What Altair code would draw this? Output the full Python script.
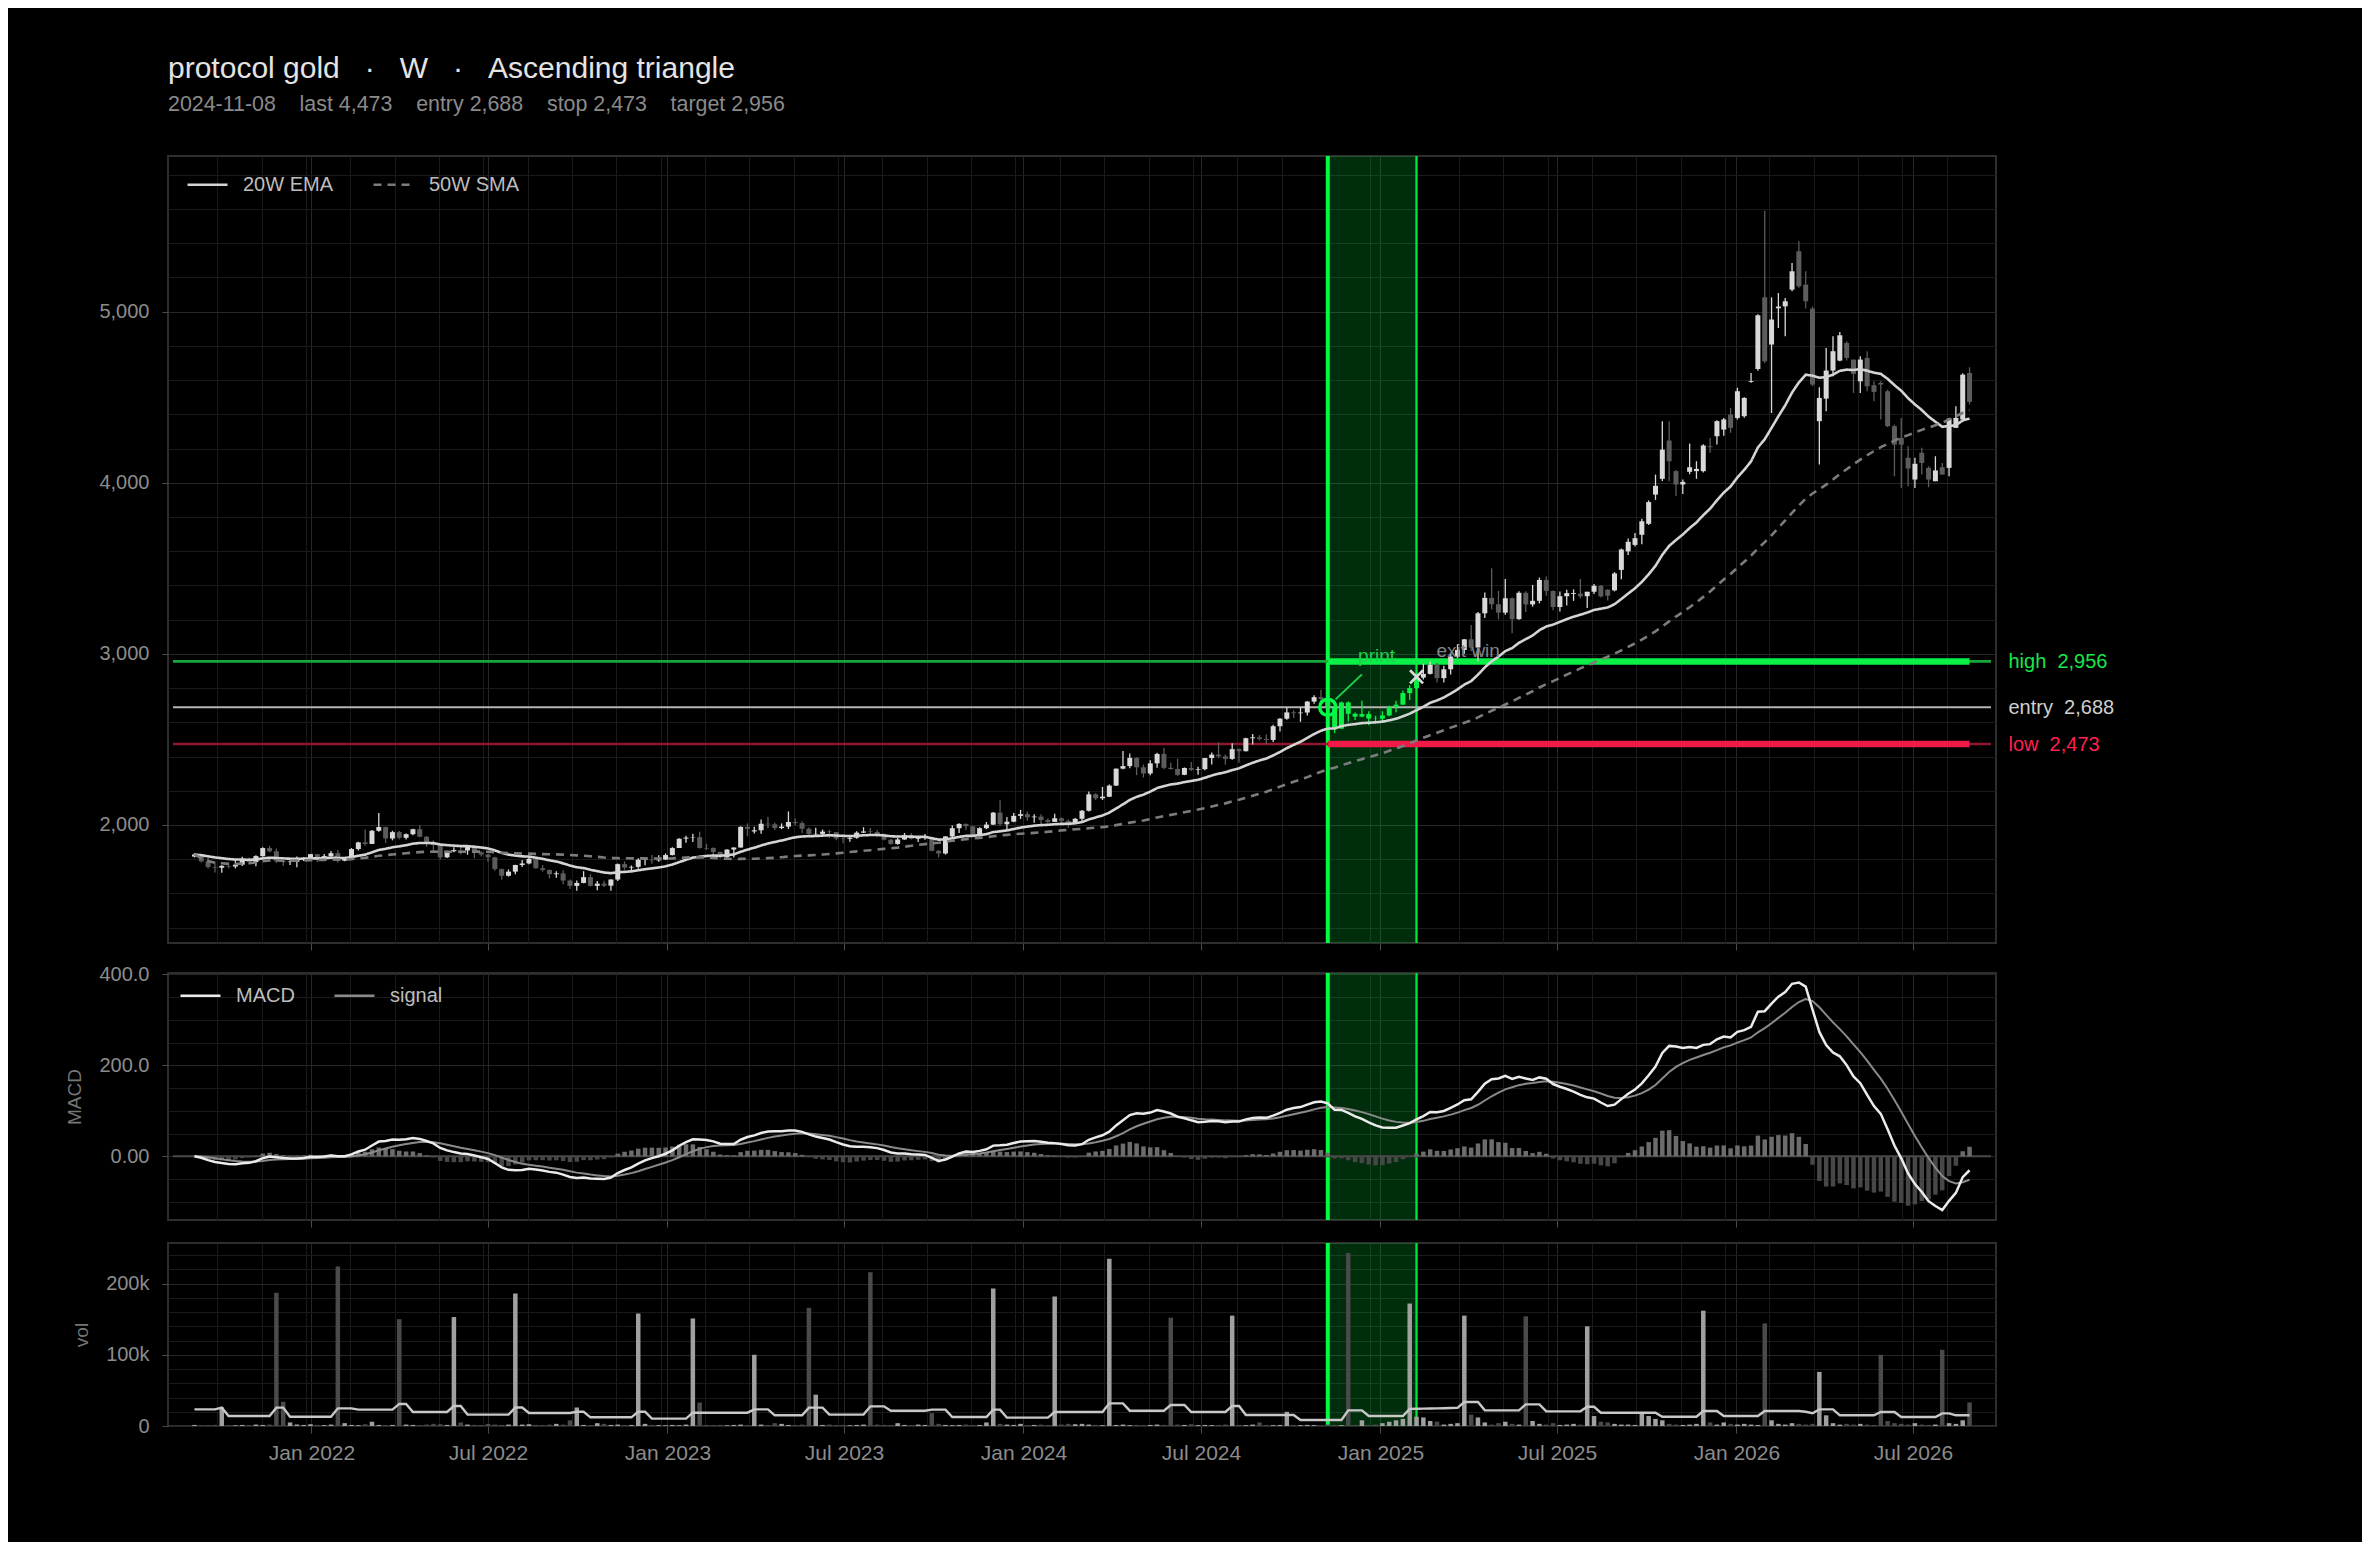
import altair as alt
import numpy as np
import pandas as pd

NB = "\u00a0"

# ---------------- data (weekly candles) ----------------
dates = pd.date_range("2021-09-03", periods=261, freq="7D")

open_ = [
    1815, 1827, 1787, 1754, 1750, 1761, 1757, 1768, 1796, 1783,
    1818, 1865, 1846, 1788, 1783, 1783, 1798, 1808, 1829, 1797,
    1818, 1835, 1791, 1807, 1859, 1898, 1889, 1966, 1988, 1921,
    1958, 1925, 1946, 1975, 1931, 1897, 1883, 1811, 1846, 1853,
    1851, 1871, 1840, 1827, 1811, 1742, 1703, 1727, 1766, 1775,
    1802, 1747, 1737, 1712, 1717, 1675, 1644, 1661, 1695, 1644,
    1657, 1645, 1681, 1771, 1751, 1755, 1797, 1797, 1793, 1798,
    1824, 1865, 1920, 1926, 1928, 1865, 1865, 1842, 1811, 1856,
    1868, 1989, 1962, 1969, 2007, 2004, 1982, 1990, 2017, 2011,
    1978, 1946, 1948, 1961, 1958, 1921, 1919, 1925, 1955, 1962,
    1959, 1943, 1914, 1889, 1915, 1940, 1919, 1924, 1925, 1849,
    1833, 1933, 1981, 2006, 1992, 1940, 1981, 2002, 2072, 2004,
    2019, 2053, 2063, 2045, 2049, 2029, 2018, 2039, 2024, 2013,
    2036, 2083, 2179, 2156, 2165, 2230, 2329, 2344, 2392, 2337,
    2301, 2360, 2415, 2334, 2327, 2293, 2333, 2322, 2326, 2391,
    2411, 2401, 2386, 2443, 2431, 2507, 2512, 2503, 2497, 2577,
    2621, 2658, 2653, 2657, 2721, 2747, 2736, 2685, 2563, 2716,
    2650, 2633, 2648, 2622, 2621, 2640, 2689, 2703, 2771, 2800,
    2861, 2883, 2936, 2858, 2910, 2984, 3023, 3085, 3037, 3237,
    3327, 3290, 3241, 3325, 3203, 3357, 3289, 3310, 3432, 3368,
    3274, 3337, 3350, 3352, 3337, 3363, 3398, 3375, 3371, 3491,
    3599, 3637, 3696, 3760, 3931, 4023, 4247, 4068, 3990, 4064,
    4068, 4068, 4214, 4272, 4311, 4399, 4379, 4389, 4590, 4665,
    5084, 4808, 5020, 5031, 5129, 5353, 5158, 5018, 4360, 4492,
    4656, 4714, 4817, 4720, 4593, 4730, 4570, 4584, 4535, 4331,
    4262, 4146, 4019, 4175, 4087, 4009, 4091, 4087, 4321, 4370,
    4642,
]
high = [
    1834, 1832, 1808, 1787, 1765, 1781, 1800, 1814, 1810, 1823,
    1869, 1877, 1862, 1793, 1793, 1815, 1812, 1831, 1830, 1830,
    1848, 1853, 1813, 1865, 1902, 1974, 1970, 2070, 1990, 1966,
    1966, 1950, 1978, 1998, 1936, 1909, 1884, 1849, 1869, 1874,
    1877, 1879, 1847, 1830, 1814, 1745, 1740, 1767, 1795, 1808,
    1806, 1765, 1740, 1729, 1735, 1681, 1675, 1730, 1713, 1673,
    1674, 1682, 1775, 1787, 1763, 1805, 1810, 1825, 1823, 1833,
    1870, 1922, 1937, 1949, 1960, 1890, 1870, 1845, 1858, 1870,
    1992, 2009, 1990, 2032, 2048, 2015, 2009, 2079, 2038, 2022,
    1985, 1983, 1973, 1971, 1959, 1925, 1935, 1963, 1987, 1982,
    1971, 1950, 1916, 1924, 1953, 1953, 1932, 1947, 1925, 1853,
    1935, 1997, 2010, 2009, 1993, 1987, 2017, 2075, 2145, 2047,
    2070, 2088, 2078, 2062, 2062, 2037, 2065, 2044, 2032, 2041,
    2088, 2195, 2185, 2222, 2236, 2330, 2432, 2418, 2396, 2353,
    2378, 2422, 2450, 2364, 2387, 2336, 2368, 2340, 2392, 2424,
    2483, 2412, 2477, 2449, 2510, 2531, 2525, 2529, 2586, 2625,
    2685, 2670, 2685, 2725, 2758, 2790, 2750, 2709, 2721, 2722,
    2657, 2726, 2664, 2638, 2665, 2697, 2726, 2786, 2817, 2886,
    2942, 2955, 2947, 2930, 3004, 3057, 3087, 3168, 3245, 3358,
    3500, 3368, 3438, 3330, 3366, 3366, 3403, 3446, 3452, 3370,
    3365, 3375, 3377, 3438, 3363, 3409, 3402, 3378, 3478, 3615,
    3675, 3707, 3790, 3897, 4048, 4360, 4360, 4075, 4019, 4229,
    4126, 4225, 4262, 4365, 4378, 4438, 4555, 4500, 4642, 4985,
    5590, 5084, 5109, 5080, 5285, 5411, 5236, 5030, 4558, 4788,
    4856, 4882, 4827, 4720, 4739, 4769, 4593, 4593, 4545, 4340,
    4379, 4214, 4146, 4204, 4097, 4155, 4116, 4379, 4447, 4640,
    4675,
]
low = [
    1810, 1780, 1745, 1722, 1721, 1746, 1746, 1760, 1770, 1758,
    1814, 1840, 1778, 1762, 1766, 1753, 1790, 1790, 1782, 1790,
    1810, 1780, 1788, 1807, 1850, 1878, 1889, 1960, 1895, 1910,
    1916, 1915, 1940, 1928, 1872, 1850, 1798, 1807, 1840, 1828,
    1826, 1805, 1816, 1784, 1732, 1680, 1698, 1712, 1754, 1770,
    1745, 1727, 1688, 1691, 1654, 1626, 1615, 1659, 1640, 1618,
    1638, 1616, 1672, 1739, 1727, 1744, 1765, 1773, 1785, 1795,
    1822, 1865, 1896, 1901, 1862, 1853, 1819, 1804, 1805, 1810,
    1868, 1934, 1950, 1949, 1981, 1970, 1975, 1976, 2000, 1952,
    1932, 1939, 1940, 1925, 1910, 1893, 1902, 1920, 1953, 1942,
    1928, 1910, 1885, 1884, 1913, 1915, 1901, 1913, 1846, 1810,
    1827, 1927, 1953, 1970, 1932, 1932, 1975, 1999, 1995, 1973,
    2016, 2035, 2024, 2013, 2001, 2010, 2017, 2015, 1984, 2010,
    2024, 2079, 2146, 2146, 2163, 2228, 2325, 2332, 2291, 2277,
    2291, 2335, 2325, 2324, 2286, 2291, 2316, 2293, 2319, 2353,
    2391, 2353, 2381, 2364, 2429, 2470, 2493, 2471, 2485, 2546,
    2615, 2625, 2603, 2640, 2708, 2725, 2643, 2537, 2563, 2605,
    2613, 2629, 2583, 2597, 2606, 2635, 2658, 2702, 2730, 2794,
    2850, 2880, 2833, 2832, 2880, 2975, 3000, 3015, 2957, 3210,
    3260, 3202, 3228, 3121, 3200, 3245, 3276, 3295, 3340, 3255,
    3247, 3283, 3310, 3324, 3268, 3350, 3330, 3312, 3365, 3436,
    3578, 3627, 3640, 3753, 3900, 4010, 4009, 3922, 3935, 4050,
    4023, 4060, 4175, 4223, 4275, 4292, 4370, 4380, 4584, 4655,
    4700, 4408, 4905, 4856, 5120, 5140, 5018, 4564, 4107, 4418,
    4623, 4710, 4714, 4525, 4525, 4535, 4477, 4370, 4325, 4038,
    3970, 3980, 3970, 4048, 3974, 4009, 4048, 4038, 4321, 4360,
    4457,
]
close = [
    1827, 1787, 1754, 1750, 1761, 1757, 1768, 1796, 1783, 1818,
    1865, 1846, 1788, 1783, 1786, 1798, 1808, 1829, 1797, 1818,
    1835, 1791, 1807, 1859, 1898, 1889, 1966, 1988, 1921, 1958,
    1925, 1946, 1975, 1931, 1897, 1883, 1811, 1846, 1853, 1851,
    1871, 1840, 1827, 1811, 1742, 1703, 1727, 1766, 1775, 1802,
    1747, 1737, 1712, 1717, 1675, 1644, 1661, 1695, 1644, 1657,
    1645, 1681, 1771, 1751, 1755, 1797, 1801, 1793, 1798, 1824,
    1865, 1920, 1926, 1928, 1865, 1862, 1842, 1811, 1856, 1868,
    1989, 1978, 1969, 2007, 2004, 1982, 1990, 2017, 2011, 1978,
    1946, 1948, 1961, 1958, 1921, 1919, 1925, 1955, 1962, 1959,
    1943, 1914, 1889, 1915, 1940, 1919, 1924, 1925, 1849, 1833,
    1933, 1981, 2006, 1992, 1940, 1981, 2002, 2072, 2004, 2019,
    2053, 2063, 2045, 2049, 2029, 2018, 2039, 2024, 2013, 2036,
    2083, 2179, 2156, 2165, 2230, 2329, 2344, 2392, 2337, 2301,
    2360, 2415, 2334, 2327, 2293, 2333, 2322, 2326, 2391, 2411,
    2401, 2386, 2443, 2431, 2507, 2512, 2503, 2497, 2577, 2621,
    2658, 2653, 2657, 2721, 2747, 2736, 2685, 2563, 2716, 2650,
    2633, 2648, 2622, 2621, 2640, 2689, 2703, 2771, 2800, 2861,
    2883, 2936, 2858, 2910, 2984, 3023, 3085, 3037, 3237, 3327,
    3290, 3241, 3325, 3203, 3357, 3289, 3310, 3432, 3368, 3274,
    3337, 3355, 3355, 3337, 3363, 3398, 3336, 3340, 3470, 3610,
    3655, 3676, 3775, 3887, 3982, 4194, 4126, 3990, 4005, 4091,
    4081, 4218, 4208, 4360, 4370, 4321, 4535, 4496, 4595, 4979,
    4710, 4954, 5030, 5061, 5236, 5148, 5061, 4574, 4496, 4656,
    4769, 4862, 4730, 4636, 4720, 4564, 4531, 4574, 4331, 4223,
    4223, 4083, 4111, 4116, 4019, 4072, 4048, 4375, 4379, 4632,
    4473,
]
volume_k = [
    1.5, 1, 1.2, 1.5, 26, 1.2, 1, 1.5, 1.3, 2,
    1.5, 2, 187, 34, 5, 2, 1.5, 2.5, 1.5, 1.2,
    2, 224, 4, 1.5, 1.2, 2.5, 6, 1.5, 1.2, 1.5,
    150, 2, 1.5, 1.2, 2, 3, 2.5, 1.5, 153, 5,
    2, 1.5, 1.2, 3, 2, 1.5, 2, 186, 2, 2.5,
    1.5, 1.2, 2, 3, 2, 8, 26, 1.5, 1.2, 4,
    3, 1.5, 2, 1.2, 1.5, 158, 3, 1.5, 1.2, 1,
    1.5, 1.2, 2, 151, 33, 1.5, 1.2, 1.5, 1, 1.5,
    2, 1.2, 100, 2, 1.5, 4, 3, 1.5, 1.2, 2,
    166, 44, 1.5, 2, 1.2, 1.5, 1, 1.5, 2, 216,
    2, 1.5, 1.2, 4, 1.5, 1.2, 2, 1.5, 18, 3,
    1.5, 1.2, 1.5, 2, 1.2, 1.5, 5, 193, 3, 2,
    1.5, 3, 1.2, 1.5, 2, 1.2, 182, 2, 3, 2.5,
    3, 2, 1.5, 1.2, 235, 1.5, 2, 1.2, 1.5, 1.2,
    1.5, 2, 1.5, 152, 2, 1.5, 2.5, 1.2, 1.5, 1.2,
    1.5, 2, 155, 1.5, 1.2, 2, 5, 1.5, 1.2, 1.5,
    20, 1.5, 1.2, 1.5, 1.2, 1, 2, 1.5, 1.2, 243,
    1.5, 8, 1.5, 2, 4, 6, 8, 10, 172, 13,
    12, 7, 6, 2, 3, 4, 155, 16, 12, 5,
    2, 4, 6, 3, 2, 154, 7, 3, 2, 4,
    1.5, 2, 3, 2, 140, 14, 6, 5, 3, 2,
    2, 1.5, 19, 14, 10, 8, 3, 2, 1.5, 2,
    3, 162, 5, 2, 5, 3, 2, 3, 2, 1.5,
    144, 8, 3, 2, 4, 3, 2, 3, 76, 15,
    4, 2, 3, 2, 3, 2, 1.5, 100, 7, 4,
    3, 2, 4, 2, 1.5, 2, 107, 4, 3, 8,
    33,
]
vol_ma_k = [
    23.4, 23.4, 23.4, 23.4, 25.8, 14, 14, 14, 14, 14,
    14, 14, 25.8, 25.8, 13, 13, 13, 13, 13, 13,
    13, 24.8, 24.8, 24.8, 23, 23, 23, 23, 23, 23,
    31, 31, 19.7, 19.7, 19.7, 19.7, 19.7, 19.7, 28, 28,
    16, 16, 16, 16, 16, 16, 16, 26, 26, 18.3,
    18.3, 18.3, 18.3, 18.3, 18.3, 18.3, 20, 20, 12.2, 12.2,
    12.2, 12.2, 12.2, 12.2, 12.2, 20, 20, 10.3, 10.3, 10.3,
    10.3, 10.3, 10.3, 18.7, 18.7, 18.7, 18.7, 18.7, 18.7, 18.7,
    18.7, 18.7, 23.4, 23.4, 23.4, 15, 15, 15, 15, 15,
    25.8, 25.8, 25.8, 16, 16, 16, 16, 16, 16, 27.6,
    27.6, 27.6, 21.5, 21.5, 21.5, 21.5, 21.5, 21.5, 23, 23,
    23, 12.6, 12.6, 12.6, 12.6, 12.6, 12.6, 23, 23, 11.7,
    11.7, 11.7, 11.7, 11.7, 11.7, 11.7, 19.7, 19.7, 19.7, 19.7,
    19.7, 19.7, 19.7, 19.7, 31.8, 31.8, 31.8, 21.5, 21.5, 21.5,
    21.5, 21.5, 21.5, 29.5, 29.5, 29.5, 19.7, 19.7, 19.7, 19.7,
    19.7, 19.7, 28, 28, 15.5, 15.5, 15.5, 15.5, 15.5, 15.5,
    15.5, 15.5, 8.4, 8.4, 8.4, 8.4, 8.4, 8.4, 8.4, 22,
    22, 22, 14, 14, 14, 14, 14, 14, 24, 24.2,
    24.4, 24.6, 24.8, 25, 25.2, 25.4, 33.7, 33.7, 33.7, 22,
    22, 22, 22, 22, 22, 30.4, 30.4, 30.4, 20.6, 20.6,
    20.6, 20.6, 20.6, 20.6, 27, 27, 18.7, 18.7, 18.7, 18.7,
    18.7, 18.7, 18.7, 18.7, 18.7, 13, 13, 13, 13, 13,
    13, 21, 21, 21, 14, 14, 14, 14, 14, 14,
    21, 21, 21, 21, 21, 21, 20, 18, 23.4, 23.4,
    23.4, 15, 15, 15, 15, 15, 15, 19.7, 19.7, 19.7,
    12.6, 12.6, 12.6, 12.6, 12.6, 12.6, 17.8, 17.8, 15, 15,
    15,
]

signal_date = "2024-11-08"
exit_date = "2025-02-07"
level_end_date = "2026-08-28"
entry_price, stop_price, target_price = 2688, 2473, 2956
exit_mark_price = 2866
level_names = ["high", "entry", "low"]
level_prices = [target_price, entry_price, stop_price]

# ---------------- frame ----------------
df = pd.DataFrame({
    "date": dates.strftime("%Y-%m-%d"),
    "open": open_, "high": high, "low": low, "close": close,
    "vol": np.array(volume_k) * 1000.0,
    "vol_ma": np.array(vol_ma_k) * 1000.0,
})
c = df["close"].astype(float)
df["ema20"] = c.ewm(span=20, adjust=False).mean()
df["sma50"] = c.rolling(50, min_periods=1).mean()
macd = c.ewm(span=12, adjust=False).mean() - c.ewm(span=26, adjust=False).mean()
df["macd"] = macd
df["signal"] = macd.ewm(span=9, adjust=False).mean()
df["hist"] = df["macd"] - df["signal"]
up = df["close"] >= df["open"]
in_band = (dates >= pd.Timestamp(signal_date)) & (dates <= pd.Timestamp(exit_date))
df["ccolor"] = np.where(in_band, "#0cf046", np.where(up, "#d9d9d9", "#5c5c5c"))
df["vcolor"] = np.where(up, "#a0a0a0", "#4a4a4a")
df["hcolor"] = np.where(df["hist"] >= 0, "#6c6c6c", "#474747")


def ms(s):
    return int(pd.Timestamp(s, tz="UTC").value // 10**6)


X_LO, X_HI = "2021-08-12", "2026-09-19"
x0, x1 = ms(X_LO), ms(X_HI)
xs = alt.Scale(type="utc", domain=[x0, x1])
major_x = [ms(f"{y}-{m:02d}-01") for y in range(2022, 2027) for m in (1, 7)]
minor_x = [int(x0 + k * (x1 - x0) / 41) for k in range(1, 41)]

W = 1828
H_MAIN, H_MACD, H_VOL = 787, 247, 183
MAJ, MIN = "#262626", "#1a1a1a"

MAIN_DOM = [1310, 5910]
MACD_DOM = [-140, 403]
VOL_DOM = [0, 257000]
ys_main = alt.Scale(domain=MAIN_DOM, nice=False, zero=False)
ys_macd = alt.Scale(domain=MACD_DOM, nice=False, zero=False)
ys_vol = alt.Scale(domain=VOL_DOM, nice=False, zero=False)


def X(field="date"):
    return alt.X(f"{field}:T", scale=xs, axis=None, title=None)


def Y(field, scale):
    return alt.Y(f"{field}:Q", scale=scale, axis=None, title=None)


def band_layers(scale, dom):
    bdf = pd.DataFrame({"start": [signal_date], "end": [exit_date], "lo": [dom[0]], "hi": [dom[1]]})
    fill = alt.Chart(bdf).mark_rect(color="#00ff44", opacity=0.18).encode(
        x=X("start"), x2="end:T", y=Y("lo", scale), y2="hi:Q")
    left = alt.Chart(bdf).mark_rule(color="#00ff44", strokeWidth=4).encode(
        x=X("start"), y=Y("lo", scale), y2="hi:Q")
    right = alt.Chart(bdf).mark_rule(color="#00e83e", strokeWidth=2.2).encode(
        x=X("end"), y=Y("lo", scale), y2="hi:Q")
    return [fill, left, right]


def carrier(scale, dom, xaxis=None, yaxis=None, ytitle=None):
    cdf = pd.DataFrame({"date": ["2024-01-05"], "v": [(dom[0] + dom[1]) / 2]})
    return alt.Chart(cdf).mark_point(opacity=0).encode(
        x=alt.X("date:T", scale=xs, title=None, axis=xaxis),
        y=alt.Y("v:Q", scale=scale, title=ytitle, axis=yaxis))


def axis_layers(scale, dom, labels, major_vals, minor_vals, title=None, label_expr=None):
    out = []
    out.append(carrier(scale, dom, xaxis=alt.Axis(
        orient="top", values=minor_x, labels=False, ticks=False, grid=True,
        gridColor=MIN, domain=False)))
    out.append(carrier(scale, dom, yaxis=alt.Axis(
        orient="left", values=minor_vals, labels=False, ticks=False, grid=True,
        gridColor=MIN, domain=False)))
    out.append(carrier(scale, dom, xaxis=alt.Axis(
        orient="bottom", values=major_x, labelExpr="utcFormat(datum.value, '%b %Y')",
        labels=labels, ticks=True, tickSize=7, labelPadding=9, labelOverlap=False,
        grid=True, gridColor=MAJ, domain=False, labelFontSize=21)))
    out.append(carrier(scale, dom, yaxis=alt.Axis(
        orient="left", values=major_vals, grid=True, gridColor=MAJ, tickSize=6,
        labelPadding=13, domain=False, labelOverlap=False, titlePadding=14,
        labelExpr=label_expr), ytitle=title))
    return out


# ---------------- main price panel ----------------
levels_df = pd.DataFrame({
    "name": level_names, "price": level_prices,
    "col": ["#18a83a", "#b4b4b4", "#8e1631"], "w": [2.6, 2.0, 2.6],
    "a": [X_LO] * 3, "b": [X_HI] * 3,
})
thin_levels = alt.Chart(levels_df).mark_rule().encode(
    x=X("a"), x2="b:T", y=Y("price", ys_main),
    stroke=alt.Stroke("col:N", scale=None),
    strokeWidth=alt.StrokeWidth("w:Q", scale=None))

thick_df = pd.DataFrame({
    "start": [signal_date, signal_date], "end": [level_end_date, level_end_date],
    "price": [target_price, stop_price], "col": ["#0bf046", "#f01a48"],
})
thick_levels = alt.Chart(thick_df).mark_rule(strokeWidth=6.5).encode(
    x=X("start"), x2="end:T", y=Y("price", ys_main),
    stroke=alt.Stroke("col:N", scale=None))

wicks = alt.Chart(df).mark_rule(strokeWidth=1.3).encode(
    x=X(), y=Y("low", ys_main), y2="high:Q",
    stroke=alt.Stroke("ccolor:N", scale=None))
bodies = alt.Chart(df).mark_bar(size=5).encode(
    x=X(), y=Y("open", ys_main), y2="close:Q",
    fill=alt.Fill("ccolor:N", scale=None))

ma_long = df[["date", "ema20", "sma50"]].melt("date", var_name="s", value_name="val")
ma_long["series"] = ma_long["s"].map({"ema20": "20W EMA", "sma50": "50W SMA"})
ma_dom = ["20W EMA", "50W SMA"]
ma_legend = alt.Legend(title=None, orient="none", legendX=16, legendY=5, direction="horizontal")
ma_lines = alt.Chart(ma_long).mark_line(strokeWidth=2.6).encode(
    x=X(), y=Y("val", ys_main),
    color=alt.Color("series:N", scale=alt.Scale(domain=ma_dom, range=["#d4d4d4", "#7c7c7c"]),
                    legend=ma_legend),
    strokeDash=alt.StrokeDash("series:N", scale=alt.Scale(domain=ma_dom, range=[[1, 0], [8, 6]]),
                              legend=ma_legend))

lead_df = pd.DataFrame({"d1": ["2024-11-16"], "d2": ["2024-12-13"], "p1": [2734], "p2": [2880]})
leader = alt.Chart(lead_df).mark_rule(color="#1fd14a", strokeWidth=2).encode(
    x=X("d1"), x2="d2:T", y=Y("p1", ys_main), y2="p2:Q")

entry_df = pd.DataFrame({"date": [signal_date], "p": [entry_price]})
entry_mark = alt.Chart(entry_df).mark_point(shape="circle", filled=False, size=260,
                                            strokeWidth=3.5, color="#00ff44", opacity=1).encode(
    x=X(), y=Y("p", ys_main))
exit_df = pd.DataFrame({"date": [exit_date], "p": [exit_mark_price]})
exit_mark = alt.Chart(exit_df).mark_point(shape="M-1,-1L1,1M-1,1L1,-1", filled=False, size=170,
                                          strokeWidth=2.6, color="#dcdcdc", opacity=1).encode(
    x=X(), y=Y("p", ys_main))

notes_df = pd.DataFrame({
    "date": ["2024-12-28", "2025-04-01"], "p": [2990, 3015],
    "txt": ["print", "exit win"], "col": ["#22cf50", "#858585"],
})
notes = alt.Chart(notes_df).mark_text(fontSize=19, baseline="middle", align="center").encode(
    x=X(), y=Y("p", ys_main), text="txt:N",
    fill=alt.Fill("col:N", scale=None))

right_expr = (f"datum.value == {target_price} ? 'high{NB}{NB}2,956' : "
              f"(datum.value == {entry_price} ? 'entry{NB}{NB}2,688' : 'low{NB}{NB}2,473')")
right_axis = carrier(ys_main, MAIN_DOM, yaxis=alt.Axis(
    orient="right", values=level_prices, labelExpr=right_expr,
    labelColor={"condition": [
        {"test": f"datum.value == {target_price}", "value": "#19e64a"},
        {"test": f"datum.value == {stop_price}", "value": "#ff1f4f"}],
        "value": "#d0d0d0"},
    ticks=False, grid=False, domain=False, labelPadding=12,
    labelFontSize=20, labelOverlap=False))

main = alt.layer(
    *axis_layers(ys_main, MAIN_DOM, False, [2000, 3000, 4000, 5000],
                 list(range(1400, 5900, 200)), label_expr="format(datum.value, ',')"),
    right_axis,
    *band_layers(ys_main, MAIN_DOM),
    thin_levels, thick_levels,
    wicks, bodies, ma_lines,
    leader, entry_mark, exit_mark, notes,
).resolve_axis(x="independent", y="independent").properties(
    width=W, height=H_MAIN,
    title=alt.TitleParams(
        text=f"protocol gold{NB*3}·{NB*3}W{NB*3}·{NB*3}Ascending triangle",
        subtitle=f"2024-11-08{NB*4}last 4,473{NB*4}entry 2,688{NB*4}stop 2,473{NB*4}target 2,956",
        anchor="start", frame="group", fontSize=30, fontWeight="normal", color="#e4e4e4",
        subtitleFontSize=21.4, subtitleColor="#8a8a8a", subtitlePadding=10, offset=39,
        font="Liberation Sans", subtitleFont="Liberation Sans"),
)

# ---------------- MACD panel ----------------
zero_df = pd.DataFrame({"z": [0], "a": [X_LO], "b": [X_HI]})
zero_rule = alt.Chart(zero_df).mark_rule(color="#4a4a4a", strokeWidth=2).encode(
    x=X("a"), x2="b:T", y=Y("z", ys_macd))
hist_bars = alt.Chart(df).mark_bar(size=4.5).encode(
    x=X(), y=Y("hist", ys_macd),
    fill=alt.Fill("hcolor:N", scale=None))
macd_dom = ["MACD", "signal"]
macd_scale = alt.Scale(domain=macd_dom, range=["#ebebeb", "#8a8a8a"])
macd_legend = alt.Legend(title=None, orient="none", legendX=9, legendY=-1, direction="horizontal")
sig_line = alt.Chart(df).transform_calculate(series="'signal'").mark_line(strokeWidth=2).encode(
    x=X(), y=Y("signal", ys_macd),
    color=alt.Color("series:N", scale=macd_scale, legend=macd_legend))
macd_line = alt.Chart(df).transform_calculate(series="'MACD'").mark_line(strokeWidth=2.5).encode(
    x=X(), y=Y("macd", ys_macd),
    color=alt.Color("series:N", scale=macd_scale, legend=macd_legend))

macd_expr = "datum.value == 0 ? '0.00' : format(datum.value, '.1f')"
macd_panel = alt.layer(
    *axis_layers(ys_macd, MACD_DOM, False, [0, 200, 400], list(range(-100, 401, 50)),
                 title="MACD", label_expr=macd_expr),
    *band_layers(ys_macd, MACD_DOM),
    zero_rule, hist_bars, sig_line, macd_line,
).resolve_axis(x="independent", y="independent").properties(width=W, height=H_MACD)

# ---------------- volume panel ----------------
vol_bars = alt.Chart(df).mark_bar(size=4.5).encode(
    x=X(), y=Y("vol", ys_vol),
    fill=alt.Fill("vcolor:N", scale=None))
vol_line = alt.Chart(df).mark_line(strokeWidth=2.4, color="#c8c8c8").encode(
    x=X(), y=Y("vol_ma", ys_vol))
vol_panel = alt.layer(
    *axis_layers(ys_vol, VOL_DOM, True, [0, 100000, 200000], list(range(20000, 257000, 20000)),
                 title="vol", label_expr="datum.value == 0 ? '0' : format(datum.value, '~s')"),
    *band_layers(ys_vol, VOL_DOM),
    vol_bars, vol_line,
).resolve_axis(x="independent", y="independent").properties(width=W, height=H_VOL)

chart = alt.vconcat(main, macd_panel, vol_panel, spacing=11).resolve_scale(
    color="independent", strokeDash="independent", y="independent"
).properties(
    padding={"left": 56, "top": 44, "right": 247, "bottom": 78},
    background="#000000",
).configure(font="Liberation Sans").configure_view(
    stroke="#2e2e2e", strokeWidth=2
).configure_axis(
    labelFont="Liberation Sans", labelFontSize=20, labelColor="#8c8c8c",
    titleFont="Liberation Sans", titleFontSize=19, titleColor="#767676",
    titleFontWeight="normal", tickColor="#4a4a4a", gridWidth=1,
).configure_legend(
    labelFont="Liberation Sans", labelFontSize=20, labelColor="#bdbdbd",
    symbolType="stroke", symbolSize=1600, symbolStrokeWidth=2.5,
    columnPadding=34, labelOffset=14, padding=2,
)

chart.save("out.html", embed_options={"renderer": "svg", "actions": False})
